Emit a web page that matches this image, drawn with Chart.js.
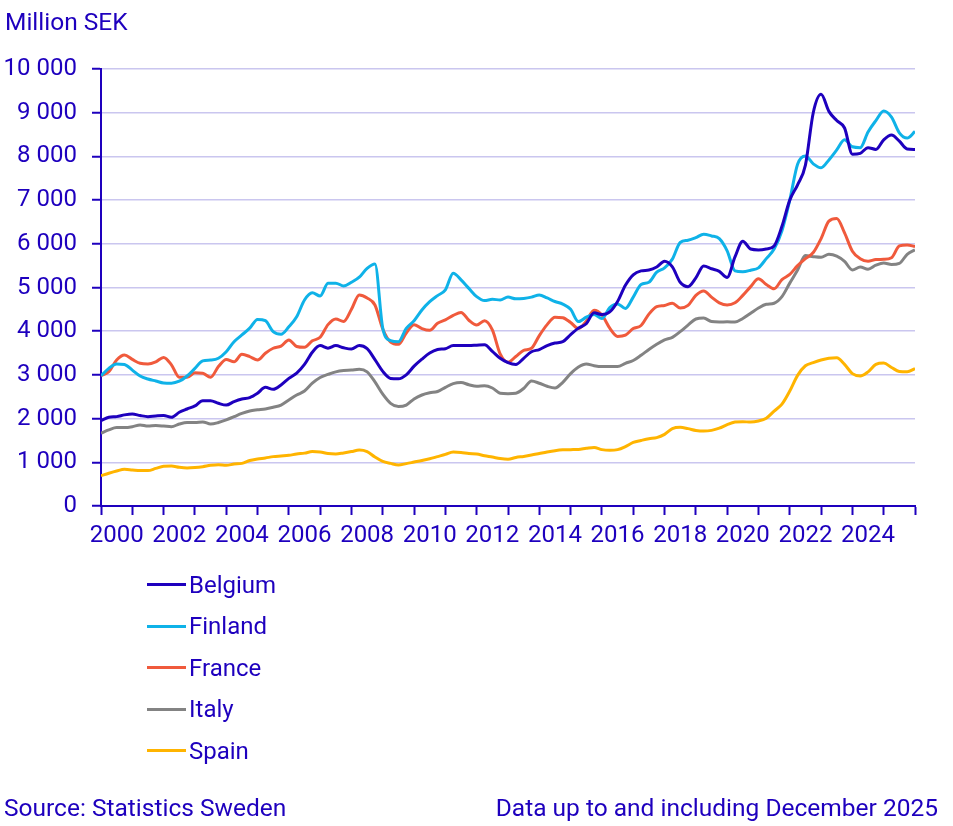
<!DOCTYPE html>
<html>
<head>
<meta charset="utf-8">
<title>Million SEK</title>
<script src="https://cdn.jsdelivr.net/npm/chart.js@4.4.1/dist/chart.umd.min.js"></script>
<style>
  body { margin: 0; background: #fff; font-family: Roboto, sans-serif; color: #1e00be; }
  #page { position: relative; width: 953px; height: 826px; overflow: hidden; }
  #chartBox { position: absolute; left: 0; top: 0; width: 953px; height: 826px; }
  .txt { position: absolute; font-size: 24.5px; line-height: 24px; white-space: nowrap; }
  .legend-row { position: absolute; left: 147px; height: 24px; font-size: 24px; line-height: 24px; white-space: nowrap; }
  .legend-row .swatch { position: absolute; left: 0; top: 10.5px; width: 39px; height: 3px; }
  .legend-row .label { position: absolute; left: 42px; top: 0; }
</style>
</head>
<body>
<div id="page">
  <div id="chartBox"><canvas id="chart"></canvas></div>
  <div class="txt" style="left:5px; top:10px;">Million SEK</div>
  <div id="legend"></div>
  <div class="txt" style="left:4px; top:796px;">Source: Statistics Sweden</div>
  <div class="txt" style="right:15px; top:796px;">Data up to and including December 2025</div>
</div>
<script>
// Quarterly readings, Jan 2000 .. Dec 2025 (million SEK)
const startYear = 2000;
const endYear = 2026;
const yearLabels = ['2000', '2002', '2004', '2006', '2008', '2010', '2012',
                    '2014', '2016', '2018', '2020', '2022', '2024'];
const countries = ['Belgium', 'Finland', 'France', 'Italy', 'Spain'];
const colors = ['#1e00be', '#0fb2e8', '#f05a3c', '#838383', '#ffb400'];

const belgium = [
  1955, 2030, 2045, 2085, 2105, 2070, 2045, 2060, 2070, 2030, 2145, 2220,
  2290, 2410, 2410, 2350, 2310, 2390, 2450, 2480, 2580, 2715, 2670, 2770,
  2920, 3040, 3240, 3520, 3670, 3610, 3670, 3620, 3590, 3670, 3600, 3350,
  3080, 2920, 2910, 3000, 3200, 3360, 3500, 3580, 3600, 3670, 3670, 3670,
  3680, 3690, 3540, 3380, 3280, 3240, 3380, 3530, 3580, 3670, 3730, 3760,
  3920, 4070, 4170, 4420, 4380, 4440, 4680, 5050, 5290, 5380, 5400, 5470,
  5600, 5470, 5120, 5020, 5220, 5490, 5430, 5370, 5230, 5700, 6060, 5880,
  5860, 5880, 5950, 6400, 7000, 7350, 7800, 9000, 9420, 9030, 8820, 8650,
  8050, 8070, 8200, 8160, 8380, 8490, 8350, 8170, 8160
];
const finland = [
  2980, 3150, 3250, 3240, 3110, 2975, 2905, 2860, 2815, 2810, 2855, 2975,
  3150, 3320, 3340, 3380, 3530, 3760, 3915, 4070, 4270, 4240, 3990, 3930,
  4100, 4330, 4715, 4880, 4805, 5095, 5100, 5035, 5120, 5235, 5440, 5540,
  4065, 3785, 3760, 4065, 4240, 4485, 4675, 4815, 4945, 5325, 5175, 4980,
  4790, 4700, 4730, 4715, 4780, 4740, 4750, 4780, 4830, 4760, 4680, 4620,
  4500, 4220, 4320, 4380, 4290, 4540, 4625, 4520, 4780, 5070, 5120, 5350,
  5450, 5650, 6030, 6080, 6140, 6220, 6180, 6120, 5840, 5380, 5360, 5395,
  5450, 5660, 5880, 6300, 7000, 7820, 8010, 7830, 7740, 7920, 8150, 8380,
  8220, 8200, 8560, 8820, 9040, 8900, 8540, 8420, 8570
];
const france = [
  2980, 3075, 3340, 3455, 3355, 3265, 3250, 3300, 3400, 3230, 2945, 2945,
  3050, 3040, 2945, 3190, 3355, 3300, 3470, 3420, 3340, 3495, 3610, 3660,
  3800, 3650, 3630, 3780, 3860, 4150, 4280, 4220, 4500, 4830, 4760, 4600,
  4050, 3750, 3700, 3960, 4150, 4060, 4020, 4180, 4260, 4360, 4430, 4250,
  4140, 4240, 4030, 3480, 3290, 3420, 3560, 3610, 3900, 4150, 4320, 4310,
  4200, 4060, 4230, 4480, 4370, 4070, 3880, 3910, 4060, 4130, 4390, 4560,
  4590, 4640, 4530, 4590, 4820, 4920, 4780, 4650, 4600, 4650, 4820, 5020,
  5200, 5070, 4970, 5180, 5300, 5500, 5660, 5800, 6120, 6520, 6580, 6250,
  5830, 5660, 5600, 5640, 5645, 5680, 5950, 5975, 5935
];
const italy = [
  1665, 1740, 1795, 1795, 1815, 1855, 1830, 1840, 1830, 1815, 1875, 1910,
  1910, 1925, 1875, 1910, 1970, 2045, 2120, 2175, 2200, 2220, 2260, 2310,
  2425, 2540, 2630, 2810, 2940, 3010, 3070, 3100, 3110, 3130, 3070, 2840,
  2560, 2350, 2275, 2310, 2450, 2540, 2590, 2620, 2715, 2800, 2825, 2775,
  2740, 2750, 2700, 2580, 2570, 2580, 2690, 2860, 2810, 2740, 2700, 2830,
  3030, 3180, 3250, 3210, 3190, 3190, 3190, 3265, 3330, 3450, 3580, 3700,
  3800, 3860, 3990, 4140, 4280, 4300, 4220, 4210, 4215, 4210, 4290, 4410,
  4530, 4615, 4640, 4790, 5100, 5400, 5730, 5705, 5690, 5760, 5720, 5600,
  5400, 5470, 5420, 5510, 5560, 5525, 5550, 5760, 5860
];
const spain = [
  695, 750, 800, 840, 825, 810, 810, 860, 910, 915, 885, 870,
  880, 900, 930, 945, 930, 960, 975, 1040, 1075, 1100, 1130, 1145,
  1160, 1190, 1210, 1245, 1235, 1200, 1190, 1215, 1245, 1280, 1245, 1120,
  1020, 975, 940, 970, 1005, 1040, 1080, 1130, 1180, 1235, 1225, 1200,
  1190, 1150, 1120, 1085, 1070, 1110, 1135, 1165, 1200, 1235, 1265, 1285,
  1290, 1295, 1320, 1340, 1290, 1275, 1290, 1360, 1455, 1500, 1540, 1565,
  1640, 1770, 1800, 1770, 1730, 1715, 1730, 1780, 1860, 1920, 1930, 1920,
  1945, 2010, 2170, 2330, 2630, 2990, 3210, 3280, 3340, 3380, 3390, 3240,
  3030, 2975, 3070, 3240, 3270, 3170, 3080, 3070, 3145
];
const seriesValues = [belgium, finland, france, italy, spain];

const blue = '#1e00be';
const gridColor = '#cac6ef';
const fontSpec = { family: 'Roboto', size: 24 };

// quarter positions on the time axis
function toPoints(values) {
  return values.map((v, i) => ({ x: startYear + i / 4, y: v }));
}

const datasets = countries.map((name, i) => ({
  label: name,
  data: toPoints(seriesValues[i]),
  borderColor: colors[i],
  backgroundColor: colors[i],
  borderWidth: 3,
  pointRadius: 0,
  tension: 0.4,
  cubicInterpolationMode: 'monotone',
  fill: false
}));

const ctx = document.getElementById('chart');
new Chart(ctx, {
  type: 'line',
  data: { datasets: datasets },
  options: {
    responsive: true,
    maintainAspectRatio: false,
    animation: false,
    layout: { padding: { left: 0, top: 69, right: 38, bottom: 260 } },
    plugins: { legend: { display: false }, tooltip: { enabled: false } },
    scales: {
      x: {
        type: 'linear',
        min: startYear,
        max: endYear,
        afterBuildTicks: (scale) => {
          const ticks = [];
          for (let v = startYear; v <= endYear; v += 0.5) ticks.push({ value: v });
          scale.ticks = ticks;
        },
        afterFit: (scale) => { scale.height = 60; },
        ticks: {
          autoSkip: false,
          maxRotation: 0,
          minRotation: 0,
          padding: 7,
          color: blue,
          font: fontSpec,
          callback: (value) => {
            if (value % 1 === 0) return '';
            const label = String(Math.floor(value));
            return yearLabels.includes(label) ? label : '';
          }
        },
        grid: {
          drawOnChartArea: false,
          drawTicks: true,
          tickLength: 9,
          tickWidth: 2,
          tickColor: (c) => (c.tick && c.tick.value % 1 === 0) ? blue : 'rgba(0,0,0,0)'
        },
        border: { display: true, color: blue, width: 2 }
      },
      y: {
        min: 0,
        max: 10000,
        afterFit: (scale) => { scale.width = 101; },
        ticks: {
          stepSize: 1000,
          padding: 15,
          color: blue,
          font: fontSpec,
          callback: (value) => String(value).replace(/\B(?=(\d{3})+(?!\d))/g, ' ')
        },
        grid: {
          color: (c) => c.tick && c.tick.value === 0 ? 'rgba(0,0,0,0)' : gridColor,
          lineWidth: 1.5,
          tickLength: 9,
          tickWidth: 2,
          tickColor: blue
        },
        border: { display: true, color: blue, width: 2 }
      }
    }
  }
});

// legend, stacked vertically under the plot
const legend = document.getElementById('legend');
const legendBaselines = [593, 634.5, 676, 717.5, 759];
countries.forEach((name, i) => {
  const row = document.createElement('div');
  row.className = 'legend-row';
  row.style.top = (legendBaselines[i] - 20.2) + 'px';
  row.innerHTML = '<div class="swatch" style="background:' + colors[i] + '"></div>' +
                  '<div class="label">' + name + '</div>';
  legend.appendChild(row);
});
</script>
</body>
</html>
